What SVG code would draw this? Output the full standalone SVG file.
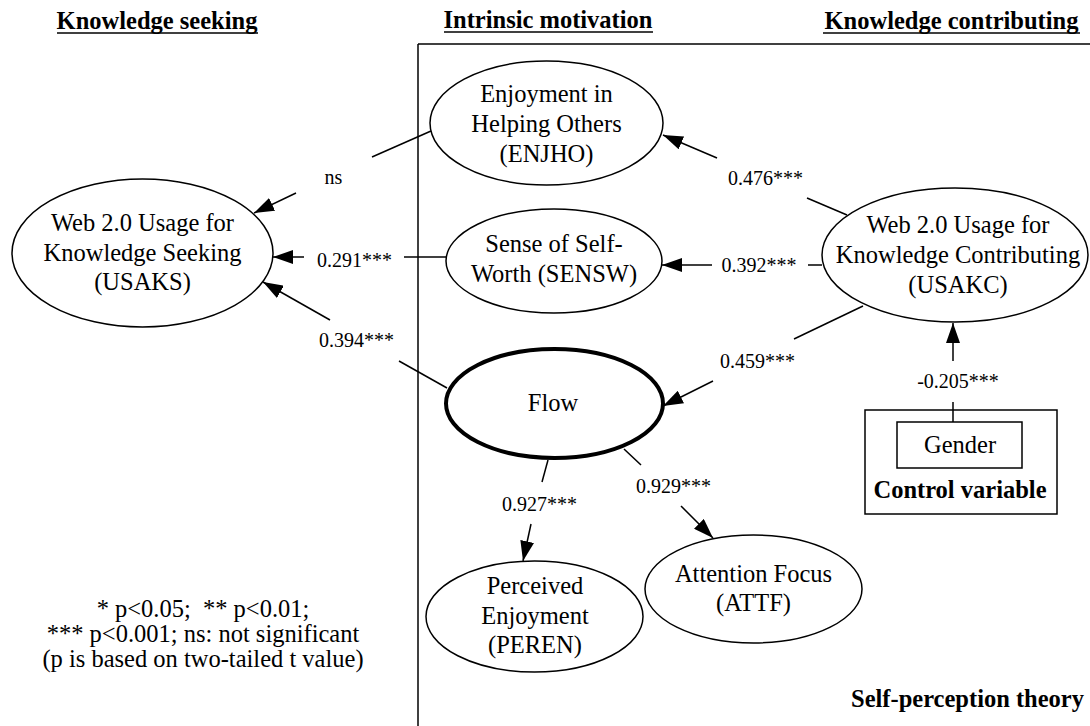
<svg xmlns="http://www.w3.org/2000/svg" width="1090" height="726" viewBox="0 0 1090 726">
<defs>
<marker id="ah" markerUnits="userSpaceOnUse" markerWidth="20" markerHeight="14" refX="20" refY="7" orient="auto">
<path d="M0,0 L20,7 L0,14 z" fill="#000"/>
</marker>
<style>
.t{font-family:"Liberation Serif","Times New Roman",serif;font-size:24.5px;fill:#000;text-anchor:middle}
.b{font-weight:bold}
.l{font-family:"Liberation Serif","Times New Roman",serif;font-size:20px;fill:#000;text-anchor:middle}
.n{fill:#fff;stroke:#000;stroke-width:1.5}
.c line{stroke:#000;stroke-width:1.5}
.a{marker-end:url(#ah)}
</style>
</defs>
<rect width="1090" height="726" fill="#fff"/>
<g id="frame" stroke="#000" stroke-width="1.5" fill="none">
<line x1="418" y1="44" x2="1090" y2="44"/>
<line x1="418" y1="44" x2="418" y2="726"/>
</g>
<g id="headings">
<text class="t b" x="157" y="29">Knowledge seeking</text>
<line x1="57" y1="33" x2="258" y2="33" stroke="#000" stroke-width="1.6"/>
<text class="t b" x="548" y="28">Intrinsic motivation</text>
<line x1="444" y1="32" x2="653" y2="32" stroke="#000" stroke-width="1.6"/>
<text class="t b" x="951.5" y="29">Knowledge contributing</text>
<line x1="823" y1="33" x2="1080" y2="33" stroke="#000" stroke-width="1.6"/>
<text class="t b" x="1084" y="707" style="text-anchor:end">Self-perception theory</text>
</g>
<g id="USAKS">
<ellipse class="n" cx="142.5" cy="253" rx="130.5" ry="74"/>
<text class="t" x="142.5" y="231">Web 2.0 Usage for</text>
<text class="t" x="142.5" y="260.5">Knowledge Seeking</text>
<text class="t" x="142.5" y="290">(USAKS)</text>
</g>
<g id="ENJHO">
<ellipse class="n" cx="546.5" cy="123" rx="116.5" ry="62"/>
<text class="t" x="546.5" y="102">Enjoyment in</text>
<text class="t" x="546.5" y="132">Helping Others</text>
<text class="t" x="546.5" y="162">(ENJHO)</text>
</g>
<g id="SENSW">
<ellipse class="n" cx="554" cy="261" rx="108" ry="52"/>
<text class="t" x="554" y="252">Sense of Self-</text>
<text class="t" x="554" y="282">Worth (SENSW)</text>
</g>
<g id="Flow">
<ellipse cx="554.5" cy="403.5" rx="108.5" ry="54.5" fill="#fff" stroke="#000" stroke-width="4"/>
<text class="t" x="553" y="411">Flow</text>
</g>
<g id="USAKC">
<ellipse class="n" cx="955" cy="255" rx="133" ry="67"/>
<text class="t" x="958" y="233">Web 2.0 Usage for</text>
<text class="t" x="958" y="263">Knowledge Contributing</text>
<text class="t" x="958" y="293">(USAKC)</text>
</g>
<g id="PEREN">
<ellipse class="n" cx="534.5" cy="616.5" rx="108.5" ry="55.5"/>
<text class="t" x="535" y="594">Perceived</text>
<text class="t" x="535" y="624">Enjoyment</text>
<text class="t" x="535" y="653">(PEREN)</text>
</g>
<g id="ATTF">
<ellipse class="n" cx="753.5" cy="589" rx="108.5" ry="54"/>
<text class="t" x="753.5" y="582">Attention Focus</text>
<text class="t" x="753.5" y="611">(ATTF)</text>
</g>
<g id="Gender">
<rect x="865" y="410" width="192" height="104" fill="#fff" stroke="#000" stroke-width="1.5"/>
<rect x="897" y="422" width="125" height="46" fill="#fff" stroke="#000" stroke-width="1.5"/>
<text class="t" x="960" y="453">Gender</text>
<text class="t b" x="960" y="498">Control variable</text>
</g>
<g id="legend">
<text class="t" x="203" y="617" style="white-space:pre">* p&lt;0.05;  ** p&lt;0.01;</text>
<text class="t" x="203" y="642">*** p&lt;0.001; ns: not significant</text>
<text class="t" x="203" y="667">(p is based on two-tailed t value)</text>
</g>
<g id="connectors" class="c">
<line x1="372" y1="157" x2="431" y2="131"/>
<line class="a" x1="296" y1="193" x2="254" y2="213"/>
<line x1="404" y1="257" x2="446" y2="257"/>
<line class="a" x1="304" y1="257" x2="273" y2="257"/>
<line x1="399" y1="361" x2="447" y2="388"/>
<line class="a" x1="330" y1="320" x2="263" y2="282"/>
<line x1="807" y1="198" x2="847" y2="215"/>
<line class="a" x1="717" y1="158" x2="663" y2="135"/>
<line x1="808" y1="265" x2="822" y2="265"/>
<line class="a" x1="712" y1="265" x2="662" y2="265"/>
<line x1="794" y1="339" x2="863" y2="306"/>
<line class="a" x1="713" y1="381" x2="663" y2="406"/>
<line x1="548" y1="460" x2="542" y2="482"/>
<line class="a" x1="531" y1="524" x2="523" y2="561"/>
<line x1="624" y1="449" x2="641" y2="465"/>
<line class="a" x1="681" y1="506" x2="713" y2="538"/>
<line x1="953" y1="402" x2="953" y2="422"/>
<line class="a" x1="953" y1="361" x2="953" y2="323"/>
</g>
<g id="labels">
<text class="l" x="333.5" y="184">ns</text>
<text class="l" x="354.5" y="267">0.291***</text>
<text class="l" x="356.5" y="347">0.394***</text>
<text class="l" x="765.5" y="185">0.476***</text>
<text class="l" x="759" y="272">0.392***</text>
<text class="l" x="757.5" y="368">0.459***</text>
<text class="l" x="539.5" y="511">0.927***</text>
<text class="l" x="673.5" y="493">0.929***</text>
<text class="l" x="958" y="388">-0.205***</text>
</g>
</svg>
